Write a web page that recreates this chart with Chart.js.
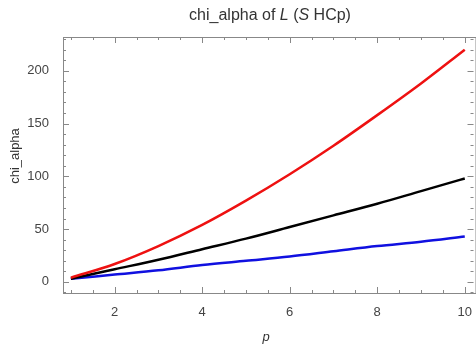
<!DOCTYPE html>
<html>
<head>
<meta charset="utf-8">
<script src="https://cdn.jsdelivr.net/npm/chart.js@4.4.0/dist/chart.umd.min.js"></script>
<style>
  html, body { margin: 0; padding: 0; background: #fff; }
  #wrap { width: 476px; height: 345px; }
</style>
</head>
<body>
<div id="wrap"><canvas id="c"></canvas></div>
<script>
const P_VALUES = [1, 2, 3, 4, 5, 6, 7, 8, 9, 10];
const RED_VALUES = [4, 17, 34, 54, 77, 102, 129, 158, 188, 220];
const BLACK_VALUES = [3, 12, 21, 31, 41, 52, 63, 74, 86, 98];
const BLUE_VALUES = [3, 7, 11, 16, 20, 24, 29, 34, 38, 43];
const X_TICKS = [2, 4, 6, 8, 10];
const Y_TICKS = [0, 50, 100, 150, 200];

const FONT = '"Liberation Sans", Arial, sans-serif';

function series(vals) {
  return P_VALUES.map((p, i) => ({ x: p, y: vals[i] }));
}

// frame with inward ticks on all four sides, Mathematica style
const framePlugin = {
  id: 'frame',
  afterDatasetsDraw(chart) {
    const { ctx, chartArea: a, scales: { x, y } } = chart;
    ctx.save();
    ctx.strokeStyle = '#888';
    ctx.lineWidth = 1;
    ctx.strokeRect(a.left + 0.5, a.top + 0.5, a.right - a.left + 2, a.bottom - a.top);
    ctx.beginPath();
    for (let v = 1; v <= 10.01; v += 0.5) {
      const px = Math.round(x.getPixelForValue(v)) + 0.5;
      const len = Number.isInteger(v) && v % 2 === 0 ? 6 : 3;
      ctx.moveTo(px, a.bottom); ctx.lineTo(px, a.bottom - len);
      ctx.moveTo(px, a.top); ctx.lineTo(px, a.top + len);
    }
    for (let v = -10; v <= 230; v += 10) {
      const py = Math.round(y.getPixelForValue(v)) + 0.5;
      const len = v % 50 === 0 ? 6 : 3;
      ctx.moveTo(a.left, py); ctx.lineTo(a.left + len, py);
      ctx.moveTo(a.right, py); ctx.lineTo(a.right - len, py);
    }
    ctx.stroke();

    // titles
    ctx.fillStyle = '#333';
    ctx.textBaseline = 'middle';
    const parts = [
      ['chi_alpha of ', false], ['L', true], [' (', false], ['S', true], [' HCp)', false]
    ];
    let total = 0;
    parts.forEach(([t, it]) => {
      ctx.font = (it ? 'italic ' : '') + '16px ' + FONT;
      total += ctx.measureText(t).width;
    });
    let tx = 270 - total / 2;
    parts.forEach(([t, it]) => {
      ctx.font = (it ? 'italic ' : '') + '16px ' + FONT;
      ctx.textAlign = 'left';
      ctx.fillText(t, tx, 16);
      tx += ctx.measureText(t).width;
    });

    ctx.font = 'italic 13px ' + FONT;
    ctx.textAlign = 'center';
    ctx.fillText('p', 266, 337);

    ctx.translate(15, 156);
    ctx.rotate(-Math.PI / 2);
    ctx.font = '13px ' + FONT;
    ctx.fillText('chi_alpha', 0, 0);
    ctx.restore();
  }
};

new Chart(document.getElementById('c'), {
  type: 'line',
  data: {
    datasets: [
      { data: series(RED_VALUES), borderColor: '#ee1111' },
      { data: series(BLACK_VALUES), borderColor: '#000000' },
      { data: series(BLUE_VALUES), borderColor: '#1010e0' }
    ]
  },
  options: {
    responsive: true,
    maintainAspectRatio: false,
    animation: false,
    layout: { padding: { left: 0, right: 0, top: 37, bottom: 0 } },
    elements: {
      point: { radius: 0 },
      line: { borderWidth: 2.5, cubicInterpolationMode: 'monotone', fill: false }
    },
    plugins: { legend: { display: false }, tooltip: { enabled: false } },
    scales: {
      x: {
        type: 'linear',
        min: 0.82,
        max: 10.2,
        grid: { display: false },
        border: { display: false },
        afterBuildTicks: s => { s.ticks = X_TICKS.map(v => ({ value: v })); },
        afterFit: s => { s.height = 52; },
        ticks: { color: '#444', font: { family: FONT, size: 13 }, padding: 4, maxRotation: 0 }
      },
      y: {
        min: -10.5,
        max: 232,
        grid: { display: false },
        border: { display: false },
        afterBuildTicks: s => { s.ticks = Y_TICKS.map(v => ({ value: v })); },
        afterFit: s => { s.width = 63; },
        ticks: { color: '#444', font: { family: FONT, size: 13 }, padding: 6 }
      }
    }
  },
  plugins: [framePlugin]
});
</script>
</body>
</html>
